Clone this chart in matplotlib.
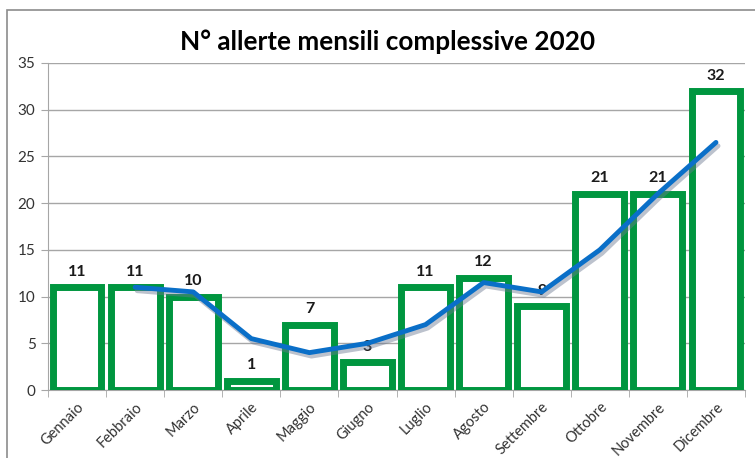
import matplotlib
matplotlib.use("Agg")
import matplotlib.pyplot as plt
import matplotlib.patheffects as pe
from matplotlib.patches import Rectangle

months = ["Gennaio", "Febbraio", "Marzo", "Aprile", "Maggio", "Giugno",
          "Luglio", "Agosto", "Settembre", "Ottobre", "Novembre", "Dicembre"]
alerts = [11, 11, 10, 1, 7, 3, 11, 12, 9, 21, 21, 32]
# trend line, starting at Febbraio
trend_months = months[1:]
trend_values = [11, 10.5, 5.5, 4, 5, 7, 11.5, 10.5, 15, 21, 26.5]
yticks = [0, 5, 10, 15, 20, 25, 30, 35]

plt.rcParams['font.family'] = ['Lato', 'DejaVu Sans']

fig = plt.figure(figsize=(7.55, 4.58), dpi=100)
fig.patches.append(Rectangle((7/755, -0.1), 2, 1.1 - 10/458, transform=fig.transFigure,
                             fill=False, edgecolor='#8c8c8c', linewidth=1.2, zorder=0))
ax = fig.add_axes([48/755, 1 - 390/458, 697/755, 327/458])

x = list(range(len(months)))
ax.bar(x, alerts, width=0.84, facecolor='white', edgecolor='#00963F',
       linewidth=5, zorder=3)
for xi, v in zip(x, alerts):
    ax.text(xi, v + 0.9, str(v), ha='center', va='bottom', fontsize=11.5,
            fontweight='bold', color='#1a1a1a', zorder=4)

tx = [months.index(m) for m in trend_months]
ax.plot(tx, trend_values, color='#0A6FC8', linewidth=3.5, zorder=5,
        solid_capstyle='round',
        path_effects=[pe.SimpleLineShadow(offset=(1.5, -2.5), shadow_color='#6b7890', alpha=0.45),
                      pe.Normal()])

ax.set_xlim(-0.5, len(months) - 0.5)
ax.set_ylim(0, 35)
ax.set_yticks(yticks)
ax.set_yticklabels([str(t) for t in yticks], fontsize=11, color='#333333')
ax.yaxis.grid(True, color='#a6a6a6', linewidth=1)
ax.set_axisbelow(True)

ax.set_xticks(x)
ax.set_xticklabels(months, rotation=45, ha='right', va='top', rotation_mode='anchor',
                   fontsize=10.5, color='#333333')
ax.tick_params(axis='x', length=0, pad=7)
ax.set_xticks([i - 0.5 for i in range(len(months) + 1)], minor=True)
ax.tick_params(axis='x', which='minor', length=5, color='#a6a6a6', direction='out')
ax.tick_params(axis='y', length=5, color='#a6a6a6', pad=4)

for s in ['top', 'right']:
    ax.spines[s].set_visible(False)
ax.spines['left'].set_color('#a6a6a6')
ax.spines['bottom'].set_color('#a6a6a6')

fig.text(388/755, 1 - 42/458, "N° allerte mensili complessive 2020", ha='center', va='center',
         fontsize=18.8, fontweight='bold', color='#000000')

fig.savefig("out.png", dpi=100)
